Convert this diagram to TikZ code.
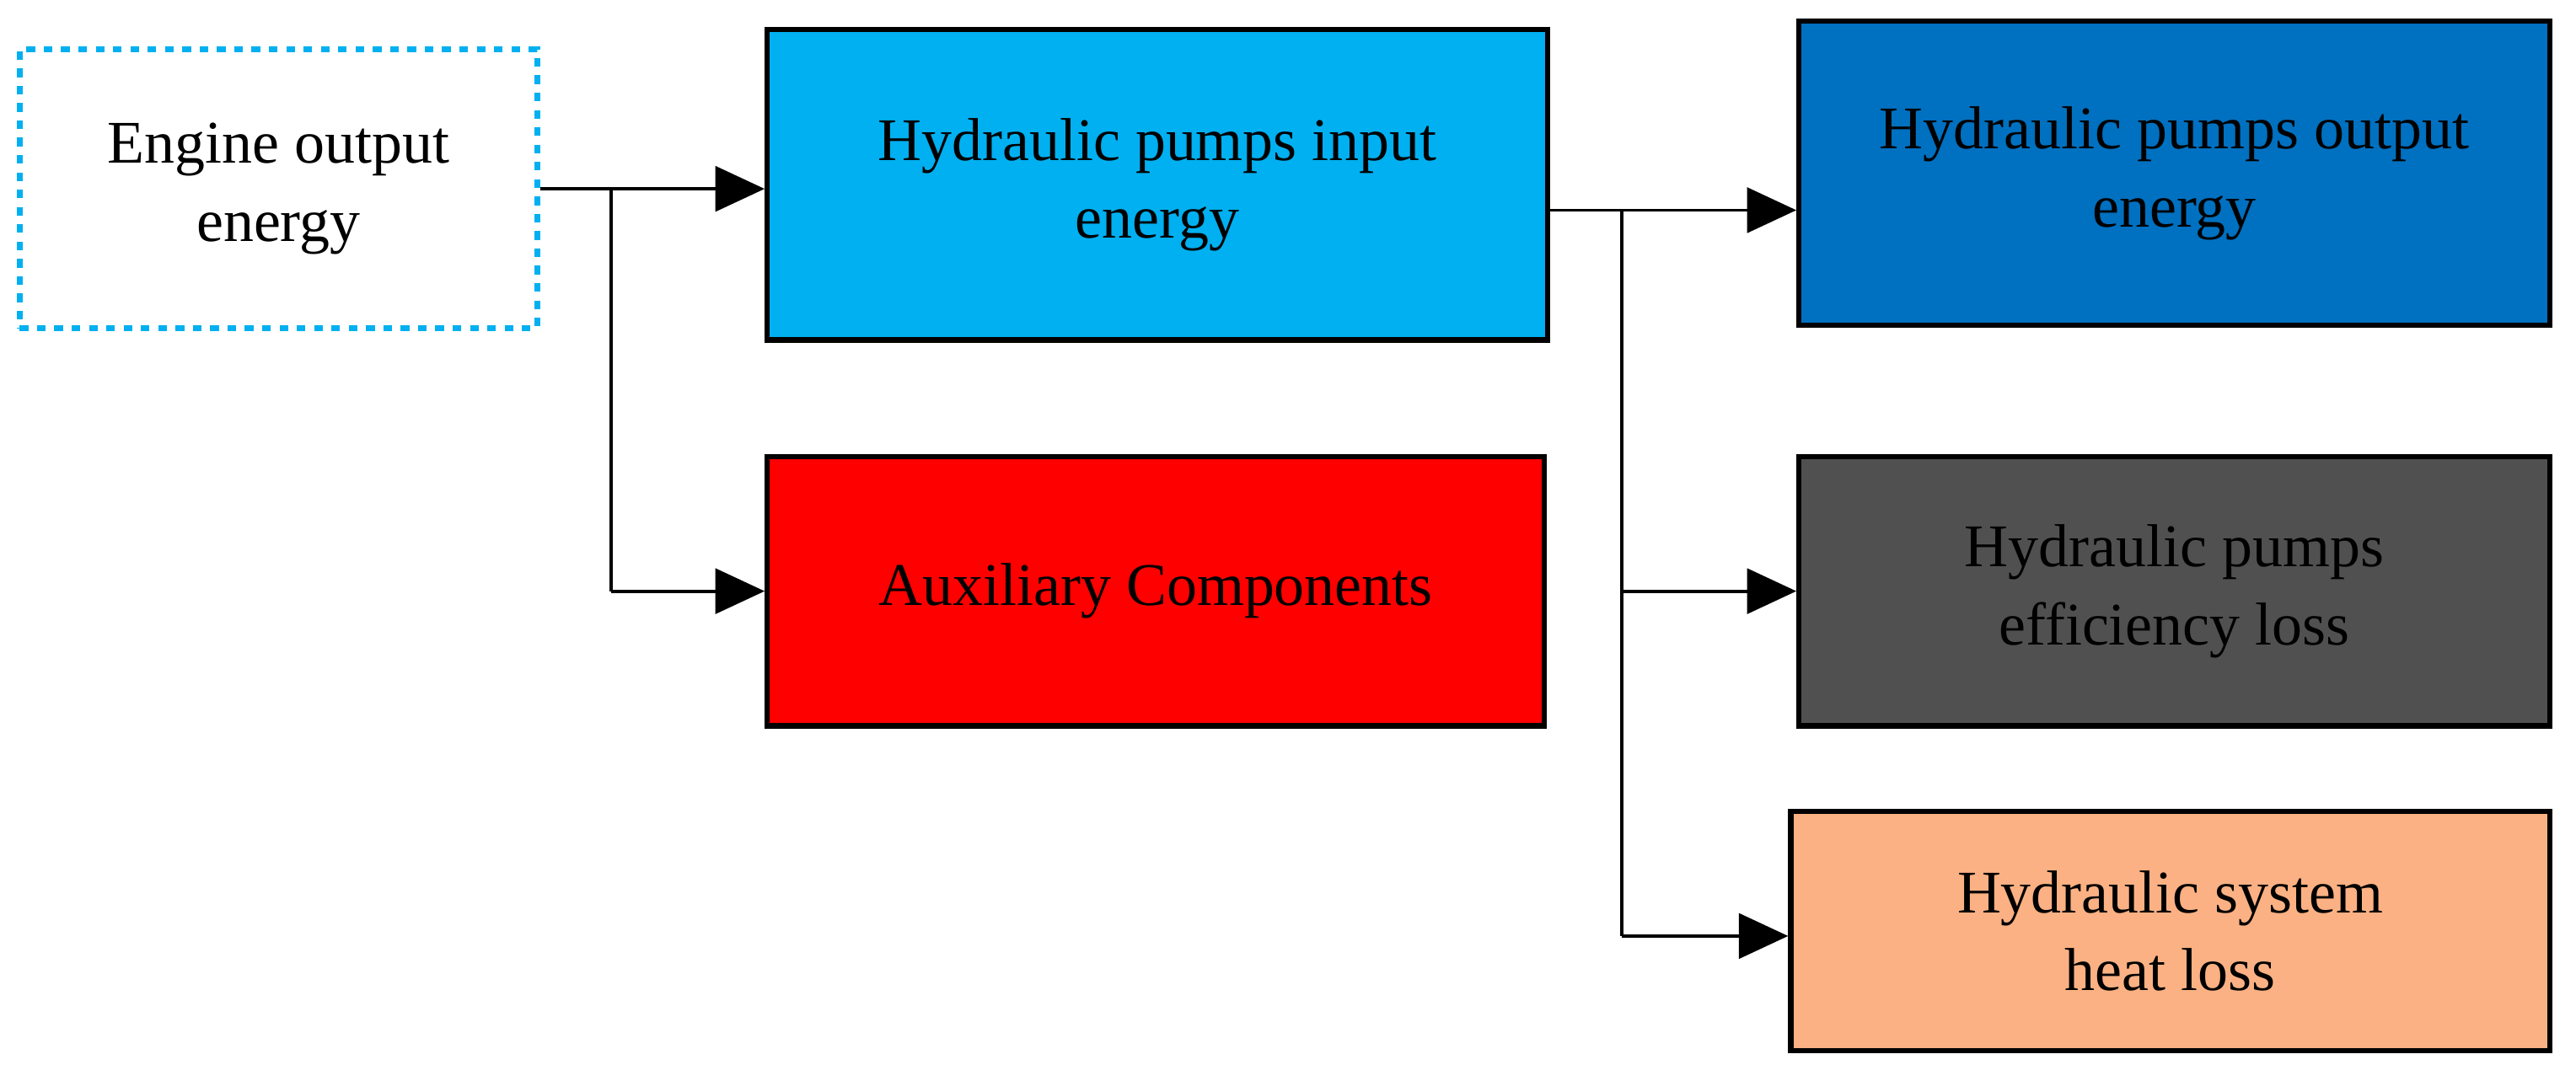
\documentclass[tikz,border=0pt]{standalone}
\usepackage{fontspec}
\setmainfont{Liberation Serif}
\usetikzlibrary{arrows.meta}
\definecolor{cy}{HTML}{00B0F0}
\definecolor{db}{HTML}{0070C0}
\definecolor{gr}{HTML}{505050}
\definecolor{pe}{HTML}{FBB183}
\begin{document}
\begin{tikzpicture}[x=0.02cm,y=-0.02cm,
 box/.style={draw=black,line width=1.8pt,align=center,font=\fontsize{21}{27}\selectfont,inner sep=0pt},
 conn/.style={line width=1.1pt,-{Triangle[length=0.6cm,width=0.55cm]}},
 ln/.style={line width=1.1pt}]
\useasboundingbox (0,0) rectangle (1568,658);
\node[box,draw=cy,dashed,line width=2pt,fill=white,minimum width=315*0.02cm,minimum height=170*0.02cm] (eng) at (169.5,115) {Engine output\\energy};
\node[box,fill=cy,minimum width=475*0.02cm,minimum height=189*0.02cm] (pin) at (704.5,112.5) {Hydraulic pumps input\\energy};
\node[box,fill=red,minimum width=473*0.02cm,minimum height=164*0.02cm] (aux) at (703.5,360) {Auxiliary Components};
\node[box,fill=db,minimum width=457*0.02cm,minimum height=185*0.02cm] (pout) at (1323.5,105.5) {Hydraulic pumps output\\energy};
\node[box,fill=gr,minimum width=457*0.02cm,minimum height=164*0.02cm] (eff) at (1323.5,360) {Hydraulic pumps\\efficiency loss};
\node[box,fill=pe,minimum width=462*0.02cm,minimum height=146*0.02cm] (heat) at (1321,567) {Hydraulic system\\heat loss};
\coordinate (j1) at (372,115);
\coordinate (j2) at (987,128);
\draw[conn] (eng.east |- 0,115) -- (pin.west |- 0,115);
\draw[ln] (j1) -- (372,360);
\draw[conn] (372,360) -- (aux.west);
\draw[conn] (pin.east |- j2) -- (pout.west |- j2);
\draw[ln] (j2) -- (987,570);
\draw[conn] (987,360) -- (eff.west);
\draw[conn] (987,570) -- (heat.west |- 0,570);
\end{tikzpicture}
\end{document}
